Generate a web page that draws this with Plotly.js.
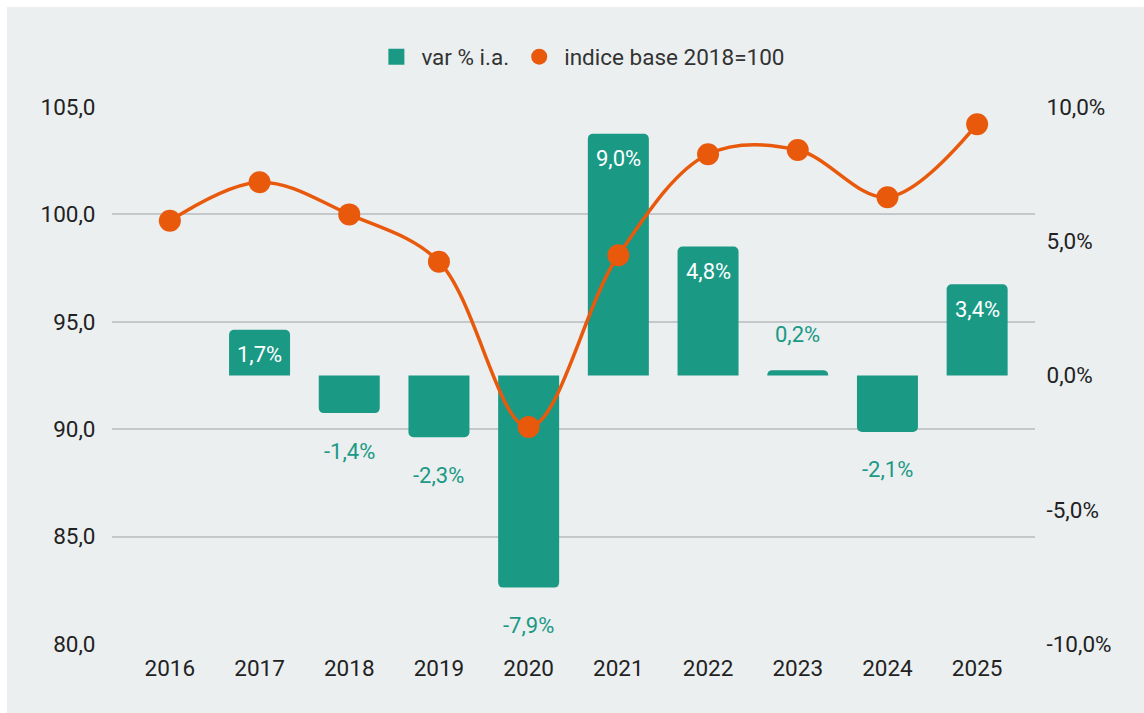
<!DOCTYPE html>
<html>
<head>
<meta charset="utf-8">
<script src="https://cdn.plot.ly/plotly-3.0.1.min.js"></script>
<style>
  html, body { margin: 0; padding: 0; background: #ffffff; width: 1144px; height: 713px; overflow: hidden; }
  #chart { position: absolute; left: 7px; top: 7px; width: 1137px; height: 706px; }
</style>
</head>
<body>
<div id="chart"></div>
<script>
// Data
const years = [2016, 2017, 2018, 2019, 2020, 2021, 2022, 2023, 2024, 2025];
const yearLabels = ['2016', '2017', '2018', '2019', '2020', '2021', '2022', '2023', '2024', '2025'];
const varPct = [null, 1.7, -1.4, -2.3, -7.9, 9.0, 4.8, 0.2, -2.1, 3.4];
const indexBase = [99.7, 101.5, 100.0, 97.8, 90.1, 98.1, 102.8, 103.0, 100.8, 104.2];
const rightTickVals = [-10, -5, 0, 5, 10];
const rightTickText = ['-10,0%', '-5,0%', '0,0%', '5,0%', '10,0%'];
const leftTickVals = [80, 85, 90, 95, 100, 105];
const leftTickText = ['80,0', '85,0', '90,0', '95,0', '100,0', '105,0'];
const barName = 'var % i.a.';
const lineName = 'indice base 2018=100';

const BAR = '#1a9985';
const ORANGE = '#e8590c';
const BG = '#ebeff0';
const FONT = 'Roboto, Arial, sans-serif';

function fmt(v) { return v.toFixed(1).replace('.', ',') + '%'; }

const annotations = [];
years.forEach(function (yr, i) {
  const v = varPct[i];
  if (v === null) return;
  const inside = v >= 1;
  annotations.push({
    x: yr, y: v, xref: 'x', yref: 'y',
    text: fmt(v), showarrow: false,
    yshift: inside ? -25 : (v >= 0 ? 36 : -38),
    font: { family: FONT, size: 22, color: inside ? '#ffffff' : BAR }
  });
});

const traces = [
  {
    type: 'bar', x: years, y: varPct, yaxis: 'y', name: barName,
    marker: { color: BAR, cornerradius: 5 },
    showlegend: false
  },
  {
    type: 'scatter', mode: 'lines+markers', x: years, y: indexBase, yaxis: 'y2', name: lineName,
    line: { color: ORANGE, width: 3.5, shape: 'spline', smoothing: 1 },
    marker: { color: ORANGE, size: 22 },
    showlegend: false
  },
  {
    type: 'scatter', mode: 'markers', x: [null], y: [null], yaxis: 'y', name: barName,
    marker: { color: BAR, size: 20, symbol: 'square' }, showlegend: true
  },
  {
    type: 'scatter', mode: 'markers', x: [null], y: [null], yaxis: 'y2', name: lineName,
    marker: { color: ORANGE, size: 22, symbol: 'circle' }, showlegend: true
  }
];

const layout = {
  width: 1137, height: 706,
  paper_bgcolor: BG, plot_bgcolor: BG,
  margin: { l: 105, r: 109, t: 100, b: 69, pad: 0 },
  separators: ',.',
  font: { family: FONT, size: 22.5, color: '#222222' },
  bargap: 0.32,
  barcornerradius: 5,
  showlegend: true,
  hovermode: false,
  legend: {
    orientation: 'h', x: 0.508, xanchor: 'center', y: 1.093, yanchor: 'middle',
    font: { family: FONT, size: 22.5, color: '#333333' },
    bgcolor: 'rgba(0,0,0,0)',
    itemwidth: 40
  },
  xaxis: {
    type: 'linear', range: [2015.355, 2025.645],
    tickmode: 'array', tickvals: years, ticktext: yearLabels,
    showgrid: false, zeroline: false, showline: false,
    ticks: 'outside', ticklen: 4, tickcolor: 'rgba(0,0,0,0)',
    tickfont: { family: FONT, size: 22.5, color: '#222222' }
  },
  yaxis: {
    side: 'right', range: [-10, 10],
    tickmode: 'array', tickvals: rightTickVals, ticktext: rightTickText,
    showgrid: false, zeroline: false, showline: false,
    ticks: 'outside', ticklen: 6, tickcolor: 'rgba(0,0,0,0)',
    tickfont: { family: FONT, size: 22.5, color: '#222222' }
  },
  yaxis2: {
    overlaying: 'y', side: 'left', range: [80, 105],
    tickmode: 'array', tickvals: leftTickVals, ticktext: leftTickText,
    showgrid: true, gridcolor: '#c5c8ca', gridwidth: 1.5,
    zeroline: false, showline: false,
    ticks: 'outside', ticklen: 11, tickcolor: 'rgba(0,0,0,0)',
    tickfont: { family: FONT, size: 22.5, color: '#222222' }
  },
  annotations: annotations
};

Plotly.newPlot('chart', traces, layout, { displayModeBar: false });
</script>
</body>
</html>
